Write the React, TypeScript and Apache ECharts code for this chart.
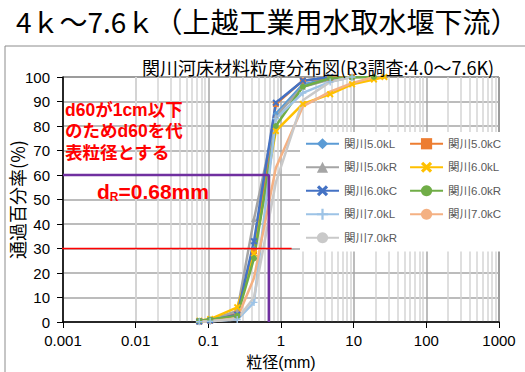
import React, { useEffect, useRef } from 'react';
import * as echarts from 'echarts';

// Sieve sizes (mm)
const sieveSizes = [0.075, 0.106, 0.25, 0.425, 0.85, 2, 4.75, 9.5, 19, 26.5];

// Passing percentage (%) per sampling point
const s50L = [0.3, 0.8, 3, 30, 85, 97, 99.5, 100, null, null];
const s50C = [0.2, 0.5, 3.5, 29, 89, 98.5, 99.7, 100, null, null];
const s50R = [0.3, 0.8, 4.5, 42, 84, 96, 99, 100, null, null];
const s60L = [0.5, 1.2, 6, 28, 78, 89, 93, 97, 99, 100];
const s60C = [0.2, 0.6, 3, 33, 89.5, 98.5, 100, null, null, null];
const s60R = [0.5, 1, 2.5, 26, 80, 96, 99.5, 99.8, 100, null];
const s70L = [0.1, 0.3, 1, 8, 83, 93.5, 98, 100, null, null];
const s70C = [0.1, 0.3, 1.5, 18, 63, 88, 94, 97.5, 100, null];
const s70R = [0.1, 0.3, 1.2, 10, 57, 90.5, 98, 100, null, null];

const seriesNames = [
  '関川5.0kL', '関川5.0kC', '関川5.0kR',
  '関川6.0kL', '関川6.0kC', '関川6.0kR',
  '関川7.0kL', '関川7.0kC', '関川7.0kR',
];
const seriesValues = [s50L, s50C, s50R, s60L, s60C, s60R, s70L, s70C, s70R];

// legend order (filled column by column)
const legendOrder = [
  '関川5.0kL', '関川5.0kR', '関川6.0kC', '関川7.0kL', '関川7.0kR',
  '関川5.0kC', '関川6.0kL', '関川6.0kR', '関川7.0kC',
];

const xTickLabels = ['0.001', '0.01', '0.1', '1', '10', '100', '1000'];
const xMin = 0.001;
const xMax = 1000;

// annotation values
const dR = 0.68;
const d60Level = 60;
const d30Level = 30;
const redLineStart = 0.0006;
const redLineEnd = 1.4;

const X_PATH = 'path://M0,2L2,0L5,3L8,0L10,2L7,5L10,8L8,10L5,7L2,10L0,8L3,5Z';
const PLUS_PATH = 'path://M4,0H6V4H10V6H6V10H4V6H0V4H4Z';

const styles = [
  { color: '#5B9BD5', symbol: 'diamond', size: 6 },
  { color: '#ED7D31', symbol: 'rect', size: 6 },
  { color: '#A5A5A5', symbol: 'triangle', size: 6 },
  { color: '#FFC000', symbol: X_PATH, size: 7 },
  { color: '#4472C4', symbol: X_PATH, size: 7 },
  { color: '#70AD47', symbol: 'circle', size: 6 },
  { color: '#9DC3E6', symbol: PLUS_PATH, size: 7 },
  { color: '#F4B183', symbol: 'none', size: 0 },
  { color: '#C9C9C9', symbol: 'none', size: 0 },
];

const FONT = '"Liberation Sans", "Noto Sans CJK JP", sans-serif';
const JFONT = '"Noto Sans CJK JP", "Liberation Sans", sans-serif';

// minor grid positions (2..9 x each decade)
const minorGrid: number[] = [];
for (let e = -3; e < 3; e++) {
  for (let m = 2; m <= 9; m++) minorGrid.push(Number((m * Math.pow(10, e)).toPrecision(3)));
}

export default function App() {
  const ref = useRef<HTMLDivElement>(null);
  useEffect(() => {
    if (!ref.current) return;
    const chart = echarts.init(ref.current, null, { renderer: 'svg' });

    const dataSeries = seriesNames.map((name, i) => ({
      name,
      type: 'line',
      z: 2,
      data: sieveSizes
        .map((s, j) => [s, seriesValues[i][j]])
        .filter((p) => p[1] !== null),
      symbol: styles[i].symbol,
      symbolSize: styles[i].size,
      showSymbol: styles[i].symbol !== 'none',
      lineStyle: { color: styles[i].color, width: 2.5 },
      itemStyle: { color: styles[i].color },
      silent: true,
    }));

    const option: any = {
      animation: false,
      textStyle: { fontFamily: FONT },
      title: {
        text: '関川河床材料粒度分布図(R3調査:4.0～7.6K)',
        left: 142,
        top: 58,
        padding: 0,
        textStyle: { fontSize: 18, fontWeight: 'normal', color: '#000', fontFamily: JFONT },
      },
      grid: {
        left: 63,
        right: 26,
        top: 77,
        bottom: 50,
        show: true,
        borderColor: '#000',
        borderWidth: 1,
        containLabel: false,
        outerBoundsMode: 'none',
      },
      legend: {
        orient: 'vertical',
        left: 300,
        top: 132,
        height: 125,
        itemWidth: 33,
        itemHeight: 14,
        itemGap: 12,
        padding: [6, 6, 8, 5],
        backgroundColor: '#fff',
        selectedMode: false,
        textStyle: { fontSize: 11.5, color: '#595959', fontFamily: FONT },
        data: legendOrder,
        z: 10,
      },
      xAxis: {
        type: 'log',
        logBase: 10,
        min: xMin,
        max: xMax,
        splitNumber: 6,
        name: '粒径(mm)',
        nameLocation: 'middle',
        nameGap: 32,
        nameMoveOverlap: false,
        nameTextStyle: { fontSize: 16, color: '#000', fontFamily: FONT, lineHeight: 16 },
        axisLine: { show: true, onZero: false, lineStyle: { color: '#000', width: 1.5 } },
        axisTick: { show: true, inside: false, length: 6, lineStyle: { color: '#000', width: 1 } },
        axisLabel: {
          fontSize: 15,
          color: '#000',
          margin: 11,
          lineHeight: 15,
          formatter: (v: number) => xTickLabels[Math.round(Math.log10(v)) + 3] ?? String(v),
        },
        splitLine: { show: true, lineStyle: { color: '#a6a6a6', width: 1.5 } },
      },
      yAxis: {
        type: 'value',
        min: 0,
        max: 100,
        interval: 10,
        name: '通過百分率(%)',
        nameLocation: 'middle',
        nameGap: 37,
        nameMoveOverlap: false,
        nameTextStyle: { fontSize: 18, color: '#000', fontFamily: JFONT },
        axisLine: { show: true, lineStyle: { color: '#000', width: 1.5 } },
        axisTick: { show: true, inside: false, length: 6, lineStyle: { color: '#000', width: 1 } },
        axisLabel: { fontSize: 15, color: '#000', margin: 13 },
        splitLine: { show: true, lineStyle: { color: '#a6a6a6', width: 1.5 } },
      },
      series: [
        {
          name: '_minor',
          type: 'line',
          z: 0,
          data: [],
          silent: true,
          markLine: {
            silent: true,
            symbol: 'none',
            z: 0,
            label: { show: false },
            lineStyle: { color: '#d4d4d4', width: 1.5, type: 'solid' },
            data: minorGrid.map((v) => ({ xAxis: v })),
          },
        },
        ...dataSeries,
        {
          name: '_d60',
          type: 'line',
          z: 4,
          symbol: 'none',
          silent: true,
          lineStyle: { color: '#7030A0', width: 2.5 },
          data: [[xMin, d60Level], [dR, d60Level], [dR, 0]],
        },
        {
          name: '_d30',
          type: 'line',
          z: 4,
          symbol: 'none',
          silent: true,
          clip: false,
          lineStyle: { color: '#ff0000', width: 1.5 },
          data: [[redLineStart, d30Level], [redLineEnd, d30Level]],
        },
      ],
      graphic: [
        {
          type: 'rect',
          silent: true,
          z: -10,
          shape: { x: 5, y: 46, width: 540, height: 340 },
          style: { fill: 'none', stroke: '#8c8c8c', lineWidth: 1 },
        },
        {
          type: 'text',
          x: 16,
          y: 7,
          silent: true,
          style: {
            text: '4ｋ～7.6ｋ（上越工業用水取水堰下流）',
            fontSize: 28,
            fontFamily: JFONT,
            fill: '#000',
          },
        },
        {
          type: 'text',
          x: 65,
          y: 101,
          silent: true,
          z: 20,
          style: { text: 'd60が1cm以下', fontSize: 17.5, fontWeight: 'bold', fontFamily: FONT, fill: '#ff0000' },
        },
        {
          type: 'text',
          x: 65,
          y: 122.5,
          silent: true,
          z: 20,
          style: { text: 'のためd60を代', fontSize: 17.5, fontWeight: 'bold', fontFamily: FONT, fill: '#ff0000' },
        },
        {
          type: 'text',
          x: 65,
          y: 144,
          silent: true,
          z: 20,
          style: { text: '表粒径とする', fontSize: 17.5, fontWeight: 'bold', fontFamily: FONT, fill: '#ff0000' },
        },
        {
          type: 'text',
          x: 97,
          y: 181,
          silent: true,
          z: 20,
          style: {
            text: '{a|d}{b|R}{a|=0.68mm}',
            rich: {
              a: { fontSize: 21, fontWeight: 'bold', fill: '#ff0000', fontFamily: FONT, lineHeight: 22, verticalAlign: 'top' },
              b: { fontSize: 12, fontWeight: 'bold', fill: '#ff0000', fontFamily: FONT, lineHeight: 12, verticalAlign: 'bottom' },
            },
          },
        },
      ],
    };
    chart.setOption(option);
    return () => chart.dispose();
  }, []);
  return <div ref={ref} style={{ width: 525, height: 372, position: 'absolute', left: 0, top: 0, background: '#fff' }} />;
}
